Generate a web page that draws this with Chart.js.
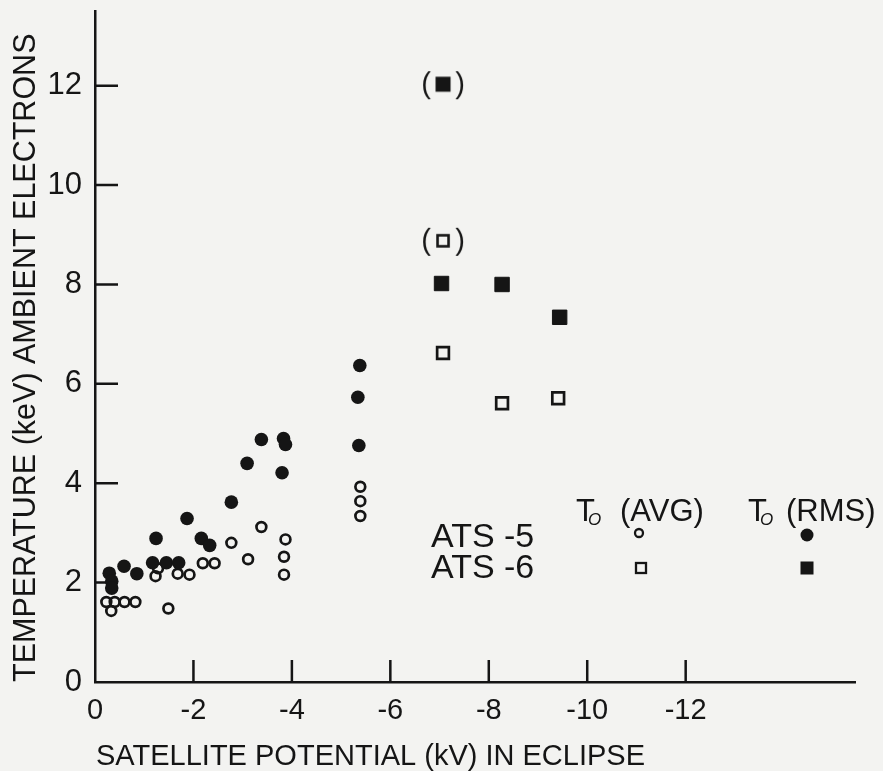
<!DOCTYPE html>
<html>
<head>
<meta charset="utf-8">
<title>Ambient electron temperature vs satellite potential</title>
<script src="https://cdn.jsdelivr.net/npm/chart.js@4.4.1/dist/chart.umd.min.js"></script>
<style>
  html, body { margin: 0; padding: 0; background: #f3f3f1; }
  #wrap { width: 883px; height: 771px; }
</style>
</head>
<body>
<div id="wrap"><canvas id="chart" width="883" height="771"></canvas></div>
<script>
/* Values: potential in kV (x), temperature in keV (y) */
var ats5AvgPotential = [-0.23, -0.40, -0.60, -0.82, -0.33, -1.49, -1.23, -1.28, -1.68, -1.92, -2.19,
                        -2.43, -2.77, -3.11, -3.38, -3.87, -3.84, -3.84, -5.39, -5.39, -5.39];
var ats5AvgTemp      = [1.61, 1.61, 1.61, 1.61, 1.43, 1.48, 2.13, 2.29, 2.18, 2.16, 2.39,
                        2.39, 2.80, 2.47, 3.12, 2.87, 2.52, 2.16, 3.93, 3.64, 3.34];

var ats5RmsPotential = [-0.29, -0.34, -0.34, -0.59, -0.85, -1.17, -1.45, -1.70, -1.24, -1.87, -2.16,
                        -2.33, -2.77, -3.09, -3.38, -3.83, -3.87, -3.80, -5.38, -5.34, -5.36];
var ats5RmsTemp      = [2.19, 2.03, 1.89, 2.33, 2.18, 2.40, 2.40, 2.40, 2.89, 3.29, 2.89,
                        2.75, 3.62, 4.40, 4.88, 4.90, 4.78, 4.21, 6.37, 5.73, 4.76];

var ats6AvgPotential = [-7.07, -8.27, -9.41];
var ats6AvgTemp      = [6.62, 5.61, 5.71];
var ats6RmsPotential = [-7.04, -8.27, -9.44];
var ats6RmsTemp      = [8.02, 8.00, 7.34];

// the two bracketed (uncertain) ATS-6 points
var ats6AvgBracketPotential = [-7.07];
var ats6AvgBracketTemp      = [8.88];
var ats6RmsBracketPotential = [-7.07];
var ats6RmsBracketTemp      = [12.03];

var xTickValues = [0, -2, -4, -6, -8, -10, -12];
var yTickValues = [0, 2, 4, 6, 8, 10, 12];

var ink = '#151515';
var fontName = "'Liberation Sans', Arial, sans-serif";

Chart.defaults.font.family = fontName;
Chart.defaults.color = ink;

function toPoints(xs, ys) {
  return xs.map(function (x, i) { return {x: x, y: ys[i]}; });
}

/* square inside round brackets, used as a point style */
function bracketSquare(filled) {
  var c = document.createElement('canvas');
  c.width = 46; c.height = 34;
  var g = c.getContext('2d');
  g.fillStyle = ink; g.strokeStyle = ink;
  g.font = '29px ' + fontName;
  g.textAlign = 'center'; g.textBaseline = 'middle';
  g.fillText('(', 6, 18);
  g.fillText(')', 40, 18);
  if (filled) {
    g.fillRect(23 - 7.5, 17 - 7.5, 15, 15);
  } else {
    g.lineWidth = 2.6;
    g.strokeRect(23 - 5.5, 17 - 5.5, 11, 11);
  }
  return c;
}

/* tick marks point into the plot area */
var inwardTicks = {
  id: 'inwardTicks',
  beforeDatasetsDraw: function (chart) {
    var ctx = chart.ctx, area = chart.chartArea;
    var xs = chart.scales.x, ys = chart.scales.y;
    ctx.save();
    ctx.strokeStyle = ink;
    ctx.lineWidth = 2.5;
    ctx.beginPath();
    yTickValues.forEach(function (v) {
      if (v === 0) return;
      var py = ys.getPixelForValue(v);
      ctx.moveTo(area.left, py);
      ctx.lineTo(area.left + 23, py);
    });
    xTickValues.forEach(function (v) {
      if (v === 0) return;
      var px = xs.getPixelForValue(v);
      ctx.moveTo(px, area.bottom);
      ctx.lineTo(px, area.bottom - 22);
    });
    ctx.stroke();
    ctx.restore();
  }
};

/* x title (left aligned under the axis) and the hand lettered key */
var annotations = {
  id: 'annotations',
  afterDraw: function (chart) {
    var ctx = chart.ctx;
    ctx.save();
    ctx.fillStyle = ink;
    ctx.strokeStyle = ink;
    ctx.textBaseline = 'alphabetic';
    ctx.textAlign = 'left';

    ctx.font = '29px ' + fontName;
    ctx.fillText('SATELLITE POTENTIAL (kV) IN ECLIPSE', chart.scales.x.left + 1, 765);

    ctx.font = '34px ' + fontName;
    ctx.fillText('ATS -5', 431, 547);
    ctx.fillText('ATS -6', 431, 578);

    ctx.font = '31px ' + fontName;
    ctx.fillText('T', 576, 521);
    ctx.fillText('(AVG)', 620, 521);
    ctx.fillText('T', 748, 521);
    ctx.fillText('(RMS)', 786, 521);
    ctx.font = 'italic 17px ' + fontName;
    ctx.fillText('O', 588, 525);
    ctx.fillText('O', 760, 525);

    // key symbols
    ctx.lineWidth = 2.3;
    ctx.beginPath();
    ctx.arc(639, 533, 4, 0, Math.PI * 2);
    ctx.stroke();
    ctx.beginPath();
    ctx.arc(807, 535, 6.5, 0, Math.PI * 2);
    ctx.fill();
    ctx.strokeRect(641 - 5, 568 - 5, 10, 10);
    ctx.fillRect(807 - 6.5, 568 - 6.5, 13, 13);
    ctx.restore();
  }
};

var ctx = document.getElementById('chart');
var chart = new Chart(ctx, {
  type: 'scatter',
  data: {
    datasets: [
      {
        label: 'ATS-5 To (RMS)',
        data: toPoints(ats5RmsPotential, ats5RmsTemp),
        pointStyle: 'circle', pointRadius: 6.8, pointBorderWidth: 0,
        backgroundColor: ink, borderColor: ink
      },
      {
        label: 'ATS-6 To (RMS)',
        data: toPoints(ats6RmsPotential, ats6RmsTemp),
        pointStyle: 'rect', pointRadius: 10.2, pointBorderWidth: 1,
        backgroundColor: ink, borderColor: ink
      },
      {
        label: 'ATS-6 To (RMS) bracketed',
        data: toPoints(ats6RmsBracketPotential, ats6RmsBracketTemp),
        pointStyle: bracketSquare(true), pointRadius: 10
      },
      {
        label: 'ATS-5 To (AVG)',
        data: toPoints(ats5AvgPotential, ats5AvgTemp),
        pointStyle: 'circle', pointRadius: 4.9, pointBorderWidth: 2.7,
        backgroundColor: 'rgba(0,0,0,0)', borderColor: ink
      },
      {
        label: 'ATS-6 To (AVG)',
        data: toPoints(ats6AvgPotential, ats6AvgTemp),
        pointStyle: 'rect', pointRadius: 8.3, pointBorderWidth: 2.7,
        backgroundColor: 'rgba(0,0,0,0)', borderColor: ink
      },
      {
        label: 'ATS-6 To (AVG) bracketed',
        data: toPoints(ats6AvgBracketPotential, ats6AvgBracketTemp),
        pointStyle: bracketSquare(false), pointRadius: 10
      }
    ]
  },
  options: {
    responsive: false,
    animation: false,
    events: [],
    layout: { padding: { top: 10, right: 28, left: 0, bottom: 0 } },
    plugins: { legend: { display: false }, tooltip: { enabled: false } },
    scales: {
      x: {
        type: 'linear',
        reverse: true,
        min: -15.44,
        max: 0,
        afterBuildTicks: function (s) { s.ticks = xTickValues.map(function (v) { return {value: v}; }); },
        afterFit: function (s) { s.height = 89; s.paddingLeft = 0; s.paddingRight = 0; },
        ticks: {
          padding: 12,
          maxRotation: 0,
          font: { size: 29 },
          color: ink,
          callback: function (v) { return String(v); }
        },
        grid: { display: false, drawTicks: false },
        border: { display: true, color: ink, width: 2.5 }
      },
      y: {
        type: 'linear',
        min: 0,
        max: 13.5,
        afterBuildTicks: function (s) { s.ticks = yTickValues.map(function (v) { return {value: v}; }); },
        afterFit: function (s) { s.width = 95; s.paddingTop = 0; s.paddingBottom = 0; },
        ticks: {
          padding: 13,
          font: { size: 31 },
          color: ink,
          callback: function (v) { return String(v); }
        },
        grid: { display: false, drawTicks: false },
        border: { display: true, color: ink, width: 2.5 },
        title: {
          display: true,
          text: 'TEMPERATURE (keV) AMBIENT ELECTRONS',
          align: 'start',
          color: ink,
          font: { size: 30.5 },
          padding: { top: 8, bottom: 0 }
        }
      }
    }
  },
  plugins: [inwardTicks, annotations]
});
</script>
</body>
</html>
